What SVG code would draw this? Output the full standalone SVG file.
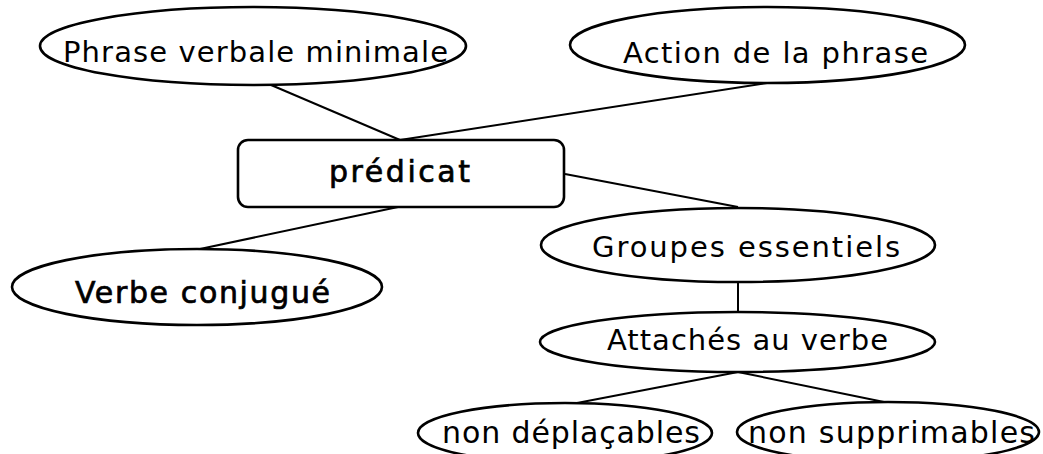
<svg xmlns="http://www.w3.org/2000/svg" width="1043" height="454" viewBox="0 0 1043 454">
<style>
.shape{fill:#fff;stroke:#000;stroke-width:2.6}
.edge{stroke:#000;stroke-width:2;fill:none}
.t{font-family:"DejaVu Sans","Liberation Sans",sans-serif;fill:#000}
.n{font-size:29px}
.l{font-size:30px}
.b{font-size:30px;stroke:#000;stroke-width:0.7}
</style>
<rect width="1043" height="454" fill="#fff"/>
<g id="connectors">
<line class="edge" x1="257" y1="79" x2="400" y2="140"/>
<line class="edge" x1="767" y1="83" x2="400" y2="140"/>
<line class="edge" x1="398" y1="207" x2="200" y2="249"/>
<line class="edge" x1="565" y1="174" x2="738" y2="207"/>
<line class="edge" x1="738" y1="282" x2="738" y2="312"/>
<line class="edge" x1="738" y1="372" x2="577" y2="403"/>
<line class="edge" x1="738" y1="372" x2="884" y2="402"/>
</g>
<g id="node-phrase">
<ellipse class="shape" cx="253" cy="46" rx="213" ry="39"/>
<text class="t n" x="63" y="62" textLength="385" lengthAdjust="spacing">Phrase verbale minimale</text>
</g>
<g id="node-action">
<ellipse class="shape" cx="767.5" cy="45" rx="197.5" ry="38"/>
<text class="t n" x="623" y="63" textLength="305" lengthAdjust="spacing">Action de la phrase</text>
</g>
<g id="node-predicat">
<rect class="shape" x="238" y="140" width="326" height="67" rx="10"/>
<text class="t b" x="329" y="182" textLength="141" lengthAdjust="spacing">prédicat</text>
</g>
<g id="node-verbe">
<ellipse class="shape" cx="197" cy="287" rx="185" ry="38"/>
<text class="t b" x="75" y="303" textLength="255" lengthAdjust="spacing">Verbe conjugué</text>
</g>
<g id="node-groupes">
<ellipse class="shape" cx="738" cy="245" rx="197" ry="37"/>
<text class="t n" x="592" y="257" textLength="308" lengthAdjust="spacing">Groupes essentiels</text>
</g>
<g id="node-attaches">
<ellipse class="shape" cx="737.5" cy="342" rx="197.5" ry="30"/>
<text class="t n" x="607" y="350" textLength="281" lengthAdjust="spacing">Attachés au verbe</text>
</g>
<g id="node-deplacables">
<ellipse class="shape" cx="565" cy="433" rx="147" ry="30"/>
<text class="t l" x="442" y="443" textLength="258" lengthAdjust="spacing">non déplaçables</text>
</g>
<g id="node-supprimables">
<ellipse class="shape" cx="888" cy="432" rx="151" ry="30"/>
<text class="t l" x="748" y="443" textLength="287" lengthAdjust="spacing">non supprimables</text>
</g>
</svg>
